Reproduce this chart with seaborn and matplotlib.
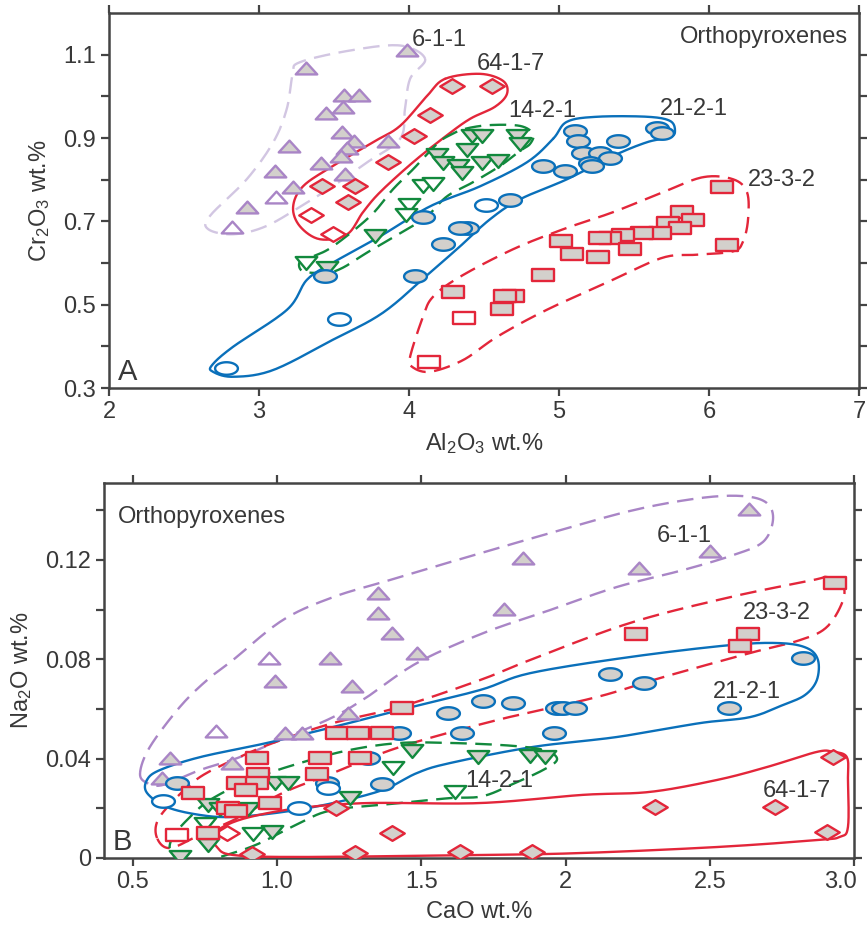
import numpy as np
import matplotlib
matplotlib.use("Agg")
import matplotlib.pyplot as plt
import matplotlib.transforms as mtransforms
from matplotlib.path import Path
from matplotlib.ticker import MultipleLocator, FixedLocator
import seaborn as sns

sns.set_style("ticks")
plt.rcParams['font.family'] = ['Liberation Sans', 'DejaVu Sans']
plt.rcParams['mathtext.fontset'] = 'custom'
plt.rcParams['mathtext.rm'] = 'Liberation Sans'
plt.rcParams['mathtext.it'] = 'Liberation Sans:italic'

TXT = '#383838'
PURPLE = '#a985c6'
PURPLE_LIGHT = '#d2c6e2'
RED = '#e3263a'
GREEN = '#12893d'
BLUE = '#0a70ba'
FILL = '#d3d0cc'

# ---------------- Panel A: Al2O3 vs Cr2O3 ----------------
a611_x = [3.985, 3.313, 3.569, 3.669, 3.562, 3.447, 3.551, 3.633, 3.589, 3.862,
          3.198, 3.544, 3.411, 3.107, 3.573, 3.229, 3.111, 2.918, 2.818]
a611_y = [1.110, 1.069, 1.004, 1.004, 0.975, 0.959, 0.915, 0.892, 0.877, 0.894,
          0.880, 0.858, 0.841, 0.822, 0.813, 0.783, 0.758, 0.735, 0.686]
a611_open = [0, 0, 0, 0, 0, 0, 0, 0, 0, 0, 0, 0, 0, 0, 0, 0, 1, 0, 1]

a647_x = [4.284, 4.551, 4.140, 4.035, 3.862, 3.418, 3.640, 3.596, 3.344, 3.496]
a647_y = [1.024, 1.024, 0.955, 0.906, 0.843, 0.786, 0.786, 0.747, 0.715, 0.669]
a647_open = [0, 0, 0, 0, 0, 0, 0, 0, 1, 1]

a1421_x = [4.418, 4.484, 4.718, 4.740, 4.389, 4.189, 4.229, 4.329, 4.351, 4.484,
           4.595, 4.096, 4.162, 4.000, 3.980, 3.773, 3.313, 3.451]
a1421_y = [0.904, 0.904, 0.904, 0.886, 0.872, 0.860, 0.840, 0.832, 0.816, 0.840,
           0.846, 0.786, 0.790, 0.740, 0.715, 0.666, 0.599, 0.589]
a1421_open = [0, 0, 0, 0, 0, 0, 0, 0, 0, 0, 0, 1, 1, 1, 1, 0, 1, 0]

a2121_x = [5.107, 5.651, 5.684, 5.129, 5.396, 5.158, 5.273, 5.340, 5.207, 5.222,
           4.896, 5.040, 4.673, 4.513, 4.091, 4.384, 4.340, 4.229, 4.040, 3.440,
           3.533, 2.780]
a2121_y = [0.916, 0.923, 0.913, 0.892, 0.893, 0.864, 0.864, 0.852, 0.840, 0.833,
           0.834, 0.822, 0.752, 0.739, 0.711, 0.683, 0.683, 0.645, 0.570, 0.570,
           0.466, 0.347]
a2121_open = [0, 0, 0, 0, 0, 0, 0, 0, 0, 0, 0, 0, 0, 1, 0, 0, 0, 0, 0, 0, 1, 1]

a2332_x = [6.084, 5.818, 5.896, 5.729, 5.807, 5.673, 5.551, 5.424, 5.340, 5.273,
           5.473, 5.262, 5.089, 5.013, 6.118, 4.896, 4.291, 4.696, 4.640, 4.618,
           4.367, 4.133]
a2332_y = [0.783, 0.723, 0.704, 0.697, 0.684, 0.673, 0.673, 0.668, 0.661, 0.661,
           0.633, 0.615, 0.622, 0.654, 0.643, 0.571, 0.530, 0.521, 0.521, 0.490,
           0.468, 0.362]
a2332_open = [0] * 20 + [1, 1]

# field outlines (vertices of the hand-drawn envelopes)
ea611_x = [4.107, 3.940, 3.607, 3.273, 3.225, 3.185, 3.095, 2.918, 2.673, 2.662,
           2.829, 3.051, 3.318, 3.495, 3.718, 3.940, 3.973, 4.007]
ea611_y = [1.090, 1.122, 1.110, 1.082, 1.054, 0.970, 0.890, 0.801, 0.713, 0.681,
           0.669, 0.689, 0.745, 0.785, 0.841, 0.898, 0.970, 1.042]
ea647_x = [4.240, 4.473, 4.627, 4.653, 4.573, 4.407, 4.247, 4.027, 3.807, 3.693,
           3.587, 3.407, 3.273, 3.227, 3.293, 3.493, 3.760, 3.940, 4.120]
ea647_y = [1.042, 1.054, 1.037, 1.006, 0.975, 0.946, 0.905, 0.842, 0.770, 0.722,
           0.669, 0.657, 0.688, 0.734, 0.784, 0.833, 0.890, 0.929, 1.001]
ea1421_x = [4.373, 4.540, 4.740, 4.827, 4.807, 4.740, 4.607, 4.427, 4.253, 4.120,
            3.987, 3.873, 3.720, 3.560, 3.453, 3.293, 3.273, 3.360, 3.493, 3.740,
            3.893, 4.027, 4.187, 4.273]
ea1421_y = [0.922, 0.931, 0.929, 0.910, 0.886, 0.869, 0.833, 0.794, 0.760, 0.712,
            0.681, 0.657, 0.625, 0.589, 0.577, 0.580, 0.604, 0.616, 0.640, 0.712,
            0.777, 0.825, 0.886, 0.907]
ea2121_x = [4.960, 5.053, 5.253, 5.587, 5.740, 5.773, 5.740, 5.587, 5.360, 5.053,
            4.740, 4.540, 4.340, 4.140, 3.827, 3.493, 3.093, 2.827, 2.693, 2.687,
            2.827, 3.187, 3.320, 3.493, 3.807, 4.140, 4.473, 4.787]
ea2121_y = [0.898, 0.939, 0.951, 0.951, 0.941, 0.917, 0.902, 0.890, 0.857, 0.801,
            0.753, 0.705, 0.640, 0.577, 0.481, 0.416, 0.343, 0.327, 0.339, 0.355,
            0.399, 0.488, 0.560, 0.601, 0.664, 0.736, 0.784, 0.842]
ea2332_x = [5.960, 6.160, 6.253, 6.260, 6.227, 6.160, 5.920, 5.693, 5.360, 4.920,
            4.587, 4.360, 4.140, 4.020, 4.007, 4.093, 4.160, 4.340, 4.693, 5.027,
            5.360, 5.693]
ea2332_y = [0.806, 0.801, 0.770, 0.705, 0.652, 0.628, 0.620, 0.613, 0.560, 0.488,
            0.423, 0.367, 0.339, 0.351, 0.375, 0.471, 0.519, 0.567, 0.633, 0.681,
            0.722, 0.770]

# ---------------- Panel B: CaO vs Na2O ----------------
b611_x = [2.637, 2.500, 2.255, 1.851, 1.788, 1.351, 1.351, 1.399, 1.484, 0.972,
          1.183, 0.993, 1.261, 1.247, 0.788, 1.027, 1.085, 0.629, 0.843, 0.600]
b611_y = [0.1407, 0.1237, 0.1166, 0.1206, 0.1004, 0.1068, 0.0987, 0.0904, 0.0824, 0.0806,
          0.0806, 0.0712, 0.0693, 0.0585, 0.0512, 0.0504, 0.0504, 0.0401, 0.0381, 0.0320]
b611_open = [0, 0, 0, 0, 0, 0, 0, 0, 0, 1, 0, 0, 0, 0, 1, 0, 0, 0, 0, 0]

b647_x = [2.928, 2.726, 2.310, 2.905, 1.634, 1.882, 1.400, 0.912, 1.270, 1.206, 0.825]
b647_y = [0.0405, 0.0204, 0.0204, 0.0103, 0.0025, 0.0025, 0.0102, 0.0016, 0.0021, 0.0202, 0.0099]
b647_open = [0, 0, 0, 0, 0, 0, 0, 0, 0, 0, 1]

b1421_x = [1.466, 1.403, 0.993, 1.039, 0.762, 0.802, 0.900, 0.750, 0.917, 0.981,
           0.762, 0.663, 1.617, 1.253, 1.697, 1.877, 1.929]
b1421_y = [0.0432, 0.0364, 0.0301, 0.0301, 0.0213, 0.0196, 0.0196, 0.0137, 0.0097, 0.0106,
           0.0052, 0.0005, 0.0267, 0.0240, 0.0408, 0.0411, 0.0408]
b1421_open = [0, 1, 0, 0, 0, 0, 0, 1, 1, 0, 0, 0, 1, 0, 0, 0, 0]

b2121_x = [2.824, 2.566, 2.154, 2.273, 1.715, 1.819, 1.969, 1.992, 2.033, 1.593,
           1.640, 1.961, 1.422, 1.363, 1.172, 1.178, 1.316, 1.076, 0.652, 0.606]
b2121_y = [0.0806, 0.0602, 0.0740, 0.0703, 0.0633, 0.0622, 0.0602, 0.0602, 0.0602, 0.0582,
           0.0505, 0.0505, 0.0505, 0.0298, 0.0301, 0.0280, 0.0401, 0.0202, 0.0301, 0.0231]
b2121_open = [0] * 15 + [1, 0, 1, 0, 1]

b2332_x = [2.934, 2.633, 2.605, 2.244, 1.432, 1.209, 1.281, 1.363, 0.929, 1.149,
           1.287, 0.935, 1.137, 0.866, 0.929, 0.891, 0.710, 0.975, 0.831, 0.858,
           0.762, 0.654]
b2332_y = [0.1108, 0.0900, 0.0853, 0.0900, 0.0602, 0.0505, 0.0505, 0.0505, 0.0403, 0.0401,
           0.0401, 0.0340, 0.0338, 0.0301, 0.0301, 0.0274, 0.0260, 0.0220, 0.0202, 0.0189,
           0.0099, 0.0093]
b2332_open = [0] * 21 + [1]

eb611_x = [0.525, 0.559, 0.663, 0.757, 0.847, 1.020, 1.194, 1.391, 1.599, 1.946,
           2.234, 2.466, 2.615, 2.698, 2.719, 2.684, 2.580, 2.407, 2.178, 1.946,
           1.714, 1.485, 1.312, 1.194, 1.034, 0.871, 0.733, 0.605, 0.549]
eb611_y = [0.0342, 0.0447, 0.0608, 0.0716, 0.0797, 0.0958, 0.1050, 0.1119, 0.1191, 0.1308,
           0.1400, 0.1449, 0.1457, 0.1429, 0.1360, 0.1272, 0.1219, 0.1159, 0.1091, 0.0998,
           0.0905, 0.0785, 0.0648, 0.0567, 0.0487, 0.0406, 0.0354, 0.0294, 0.0302]
eb2332_x = [0.584, 0.587, 0.653, 0.733, 0.847, 0.986, 1.194, 1.426, 1.703, 1.877,
            2.223, 2.570, 2.858, 2.906, 2.958, 2.962, 2.906, 2.812, 2.639, 2.338,
            2.109, 1.762, 1.426, 1.194, 1.020, 0.871, 0.733, 0.629]
eb2332_y = [0.0080, 0.0153, 0.0245, 0.0326, 0.0394, 0.0463, 0.0543, 0.0608, 0.0716, 0.0797,
            0.0946, 0.1050, 0.1119, 0.1131, 0.1107, 0.1038, 0.0930, 0.0877, 0.0825, 0.0728,
            0.0648, 0.0555, 0.0447, 0.0342, 0.0262, 0.0165, 0.0093, 0.0040]
eb2121_x = [0.549, 0.594, 0.733, 0.965, 1.194, 1.426, 1.703, 1.877, 2.223, 2.570,
            2.743, 2.837, 2.875, 2.871, 2.830, 2.754, 2.639, 2.466, 2.178, 1.887,
            1.599, 1.485, 1.367, 1.194, 1.020, 0.847, 0.733, 0.618, 0.549]
eb2121_y = [0.0314, 0.0354, 0.0406, 0.0463, 0.0527, 0.0596, 0.0676, 0.0744, 0.0809, 0.0857,
            0.0865, 0.0845, 0.0797, 0.0716, 0.0656, 0.0616, 0.0567, 0.0543, 0.0487, 0.0447,
            0.0382, 0.0342, 0.0274, 0.0221, 0.0185, 0.0165, 0.0173, 0.0205, 0.0262]
eb1421_x = [0.767, 0.906, 1.079, 1.253, 1.426, 1.599, 1.773, 1.887, 1.946, 1.970,
            1.922, 1.825, 1.714, 1.599, 1.426, 1.194, 1.079, 0.941, 0.847, 0.733,
            0.663, 0.629, 0.639, 0.688]
eb1421_y = [0.0233, 0.0314, 0.0382, 0.0435, 0.0463, 0.0463, 0.0455, 0.0443, 0.0427, 0.0394,
            0.0354, 0.0302, 0.0249, 0.0241, 0.0221, 0.0193, 0.0141, 0.0060, 0.0020, -0.0016,
            -0.0008, 0.0032, 0.0085, 0.0153]
eb647_x = [0.778, 0.812, 0.906, 1.079, 1.312, 1.703, 2.060, 2.293, 2.525, 2.698,
           2.871, 2.927, 2.975, 2.979, 2.979, 2.951, 2.871, 2.525, 2.060, 1.714,
           1.079, 0.847, 0.792]
eb647_y = [0.0085, 0.0125, 0.0165, 0.0201, 0.0221, 0.0221, 0.0254, 0.0266, 0.0314, 0.0366,
           0.0427, 0.0427, 0.0406, 0.0314, 0.0125, 0.0085, 0.0072, 0.0044, 0.0020, 0.0012,
           0.0004, 0.0012, 0.0044]

# marker shapes (wide, flat symbols as in the original)
TRI_UP = Path([(-1, -0.55), (1, -0.55), (0, 0.55), (-1, -0.55)], closed=True)
TRI_DN = Path([(-1, 0.6), (1, 0.6), (0, -0.6), (-1, 0.6)], closed=True)
DIAMOND = Path([(-1, 0), (0, 0.6), (1, 0), (0, -0.6), (-1, 0)], closed=True)
RECT = Path([(-1, -0.5), (1, -0.5), (1, 0.5), (-1, 0.5), (-1, -0.5)], closed=True)
_t = np.linspace(0, 2 * np.pi, 40)
ELLIPSE = Path(np.column_stack([np.cos(_t), 0.55 * np.sin(_t)]), closed=True)


def smooth_loop(xs, ys, n=16):
    """closed Catmull-Rom curve through the outline vertices"""
    p = np.column_stack([xs, ys])
    p0, p1, p2, p3 = np.roll(p, 1, 0), p, np.roll(p, -1, 0), np.roll(p, -2, 0)
    t = np.linspace(0, 1, n, endpoint=False)[:, None, None]
    c = 0.5 * (2 * p1 + (-p0 + p2) * t + (2 * p0 - 5 * p1 + 4 * p2 - p3) * t ** 2
               + (-p0 + 3 * p1 - 3 * p2 + p3) * t ** 3)
    c = c.transpose(1, 0, 2).reshape(-1, 2)
    c = np.vstack([c, c[:1]])
    return c[:, 0], c[:, 1]


def draw_points(ax, x, y, is_open, marker, color, size):
    x = np.asarray(x); y = np.asarray(y); o = np.asarray(is_open, bool)
    sns.scatterplot(x=x[~o], y=y[~o], ax=ax, marker=marker, s=size,
                    color=FILL, edgecolor=color, linewidth=1.7, zorder=4)
    if o.any():
        sns.scatterplot(x=x[o], y=y[o], ax=ax, marker=marker, s=size,
                        color='white', edgecolor=color, linewidth=1.7, zorder=4)


def draw_field(ax, x, y, color, dashed):
    sx, sy = smooth_loop(x, y)
    ls = (0, (7, 3.6)) if dashed else '-'
    ax.plot(sx, sy, color=color, lw=1.7, ls=ls, zorder=3, solid_capstyle='round')


def style_axes(ax):
    for s in ax.spines.values():
        s.set_linewidth(1.8)
        s.set_color('#444444')
    ax.tick_params(which='both', direction='out', length=6, width=1.6,
                   colors='#444444', labelcolor=TXT, labelsize=17,
                   top=True, right=True)


fig = plt.figure(figsize=(8.68, 9.35), dpi=100)
axA = fig.add_axes([0.1256, 0.5850, 0.8641, 0.4011])
axB = fig.add_axes([0.1198, 0.0824, 0.8641, 0.4011])

# panel A
draw_field(axA, ea611_x, ea611_y, PURPLE_LIGHT, True)
draw_field(axA, ea647_x, ea647_y, RED, False)
draw_field(axA, ea1421_x, ea1421_y, GREEN, True)
draw_field(axA, ea2121_x, ea2121_y, BLUE, False)
draw_field(axA, ea2332_x, ea2332_y, RED, True)
draw_points(axA, a611_x, a611_y, a611_open, TRI_UP, PURPLE, 240)
draw_points(axA, a647_x, a647_y, a647_open, DIAMOND, RED, 310)
draw_points(axA, a1421_x, a1421_y, a1421_open, TRI_DN, GREEN, 240)
draw_points(axA, a2121_x, a2121_y, a2121_open, ELLIPSE, BLUE, 270)
draw_points(axA, a2332_x, a2332_y, a2332_open, RECT, RED, 270)

axA.set_xlim(2, 7)
axA.set_ylim(0.3, 1.2)
axA.xaxis.set_major_locator(MultipleLocator(1))
axA.yaxis.set_major_locator(FixedLocator([0.3, 0.5, 0.7, 0.9, 1.1]))
axA.yaxis.set_minor_locator(FixedLocator([0.4, 0.6, 0.8, 1.0]))
axA.set_yticklabels(['0.3', '0.5', '0.7', '0.9', '1.1'])
style_axes(axA)
axA.set_xlabel(r'Al$_2$O$_3$ wt.%', fontsize=17, color=TXT, labelpad=6)
axA.set_ylabel(r'Cr$_2$O$_3$ wt.%', fontsize=17, color=TXT, labelpad=8)

labA = [('6-1-1', 4.02, 1.135), ('64-1-7', 4.45, 1.078), ('14-2-1', 4.66, 0.965),
        ('21-2-1', 5.67, 0.97), ('23-3-2', 6.26, 0.80)]
for s, x, y in labA:
    axA.text(x, y, s, fontsize=17, color=TXT, ha='left', va='center', zorder=5)
axA.text(0.985, 0.935, 'Orthopyroxenes', transform=axA.transAxes, fontsize=17,
         color=TXT, ha='right', va='center')
axA.text(0.012, 0.005, 'A', transform=axA.transAxes, fontsize=21, color=TXT,
         ha='left', va='bottom')

# panel B
draw_field(axB, eb611_x, eb611_y, PURPLE, True)
draw_field(axB, eb2332_x, eb2332_y, RED, True)
draw_field(axB, eb2121_x, eb2121_y, BLUE, False)
draw_field(axB, eb1421_x, eb1421_y, GREEN, True)
draw_field(axB, eb647_x, eb647_y, RED, False)
draw_points(axB, b611_x, b611_y, b611_open, TRI_UP, PURPLE, 240)
draw_points(axB, b647_x, b647_y, b647_open, DIAMOND, RED, 310)
draw_points(axB, b1421_x, b1421_y, b1421_open, TRI_DN, GREEN, 240)
draw_points(axB, b2121_x, b2121_y, b2121_open, ELLIPSE, BLUE, 270)
draw_points(axB, b2332_x, b2332_y, b2332_open, RECT, RED, 270)

axB.set_xlim(0.4, 3.0)
axB.set_ylim(0, 0.151)
axB.xaxis.set_major_locator(FixedLocator([0.5, 1.0, 1.5, 2.0, 2.5, 3.0]))
axB.set_xticklabels(['0.5', '1.0', '1.5', '2', '2.5', '3.0'])
axB.yaxis.set_major_locator(FixedLocator([0, 0.04, 0.08, 0.12]))
axB.yaxis.set_minor_locator(FixedLocator([0.02, 0.06, 0.10, 0.14]))
axB.set_yticklabels(['0', '0.04', '0.08', '0.12'])
style_axes(axB)
axB.set_xlabel('CaO wt.%', fontsize=17, color=TXT, labelpad=6)
axB.set_ylabel(r'Na$_2$O wt.%', fontsize=17, color=TXT, labelpad=8)

# the last tick label sits a little left of its tick, as in the original
last = axB.get_xticklabels()[-1]
last.set_transform(last.get_transform() +
                   mtransforms.ScaledTranslation(-10 / 72, 0, fig.dpi_scale_trans))

labB = [('6-1-1', 2.316, 0.1296), ('23-3-2', 2.614, 0.0986), ('21-2-1', 2.511, 0.0669),
        ('14-2-1', 1.651, 0.0310), ('64-1-7', 2.685, 0.0270)]
for s, x, y in labB:
    axB.text(x, y, s, fontsize=17, color=TXT, ha='left', va='center', zorder=5)
axB.text(0.018, 0.91, 'Orthopyroxenes', transform=axB.transAxes, fontsize=17,
         color=TXT, ha='left', va='center')
axB.text(0.012, 0.005, 'B', transform=axB.transAxes, fontsize=21, color=TXT,
         ha='left', va='bottom')

fig.savefig('out.png', dpi=100)
